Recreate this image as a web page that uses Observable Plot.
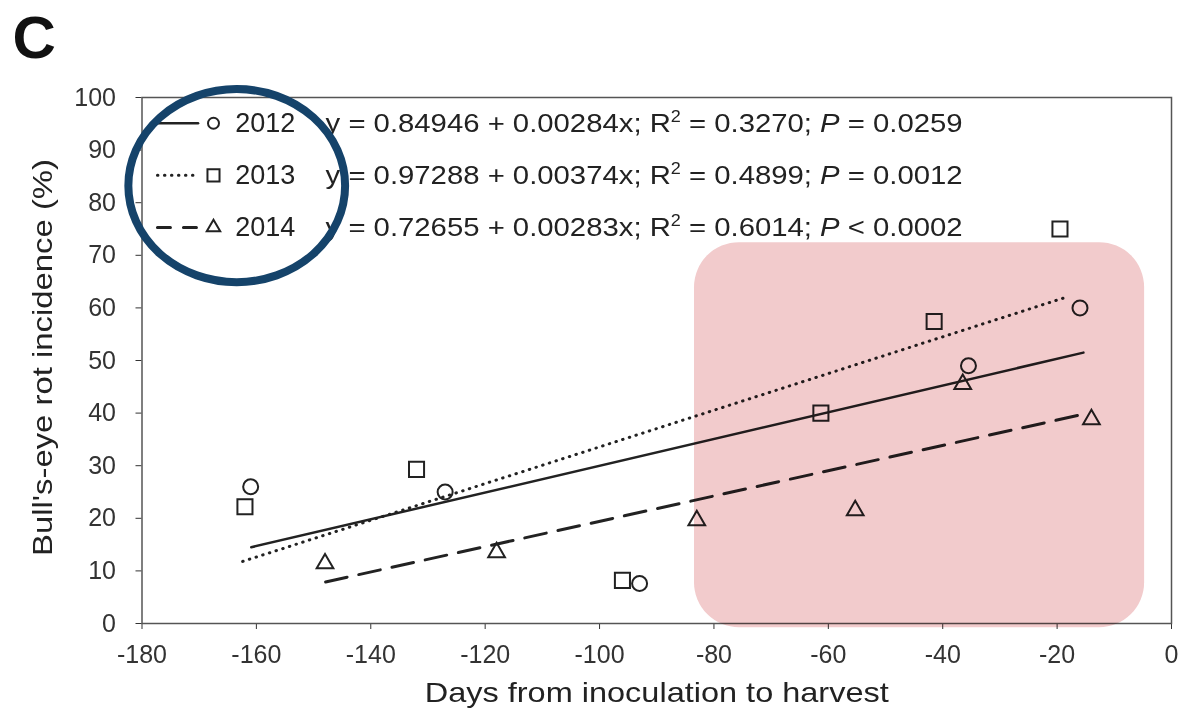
<!DOCTYPE html>
<html><head><meta charset="utf-8">
<script src="https://cdn.jsdelivr.net/npm/d3@7"></script>
<script src="https://cdn.jsdelivr.net/npm/@observablehq/plot@0.6"></script>
<style>body{margin:0;background:#fff;} #chart{width:1186px;height:722px;}</style>
</head><body><div id="chart"></div>
<script>
// ---- data ----
const years = ["2012", "2013", "2014"];
const days2012 = [-161, -127, -93, -35.5, -16];
const rot2012  = [26, 25, 7.6, 49, 60];
const days2013 = [-162, -132, -96, -61.3, -41.5, -19.5];
const rot2013  = [22.2, 29.3, 8.2, 40, 57.4, 75];
const days2014 = [-148, -118, -83, -55.3, -36.5, -14];
const rot2014  = [11.4, 13.5, 19.6, 21.5, 45.5, 38.8];
// regression line end points
const fitDays = [[-160.9, -15.4], [-162.4, -18.8], [-147.9, -14.5]];
const fitRot  = [[14.5, 51.5], [11.8, 61.9], [7.9, 40]];
// equation parts
const intercepts = ["0.84946", "0.97288", "0.72655"];
const slopes     = ["0.00284", "0.00374", "0.00283"];
const r2s        = ["0.3270", "0.4899", "0.6014"];
const pvals      = ["= 0.0259", "= 0.0012", "< 0.0002"];
const xTicks = [-180, -160, -140, -120, -100, -80, -60, -40, -20, 0];
const yTicks = [0, 10, 20, 30, 40, 50, 60, 70, 80, 90, 100];
// annotation regions (data units)
const highlightDays = [-83.4, -4.7];
const highlightRot  = [-0.8, 72.4];
const calloutDays = [-182.3, -144.4];
const calloutRot  = [64.8, 101.5];
const panelLabel = "C";
const xLabel = "Days from inoculation to harvest";
const yLabel = "Bull's-eye rot incidence (%)";

// ---- layout helpers ----
const L = {lineX1: -177.3, lineX2: -170.2, symX: -167.5, yearX: -163.7, eqX: -147.9, rowY: [95.1, 85.2, 75.3]};
const ink = "#222";
const pts = (d, r) => d.map((v, i) => ({day: v, rot: r[i]}));
const fits = years.map((_, i) => [0, 1].map(k => ({day: fitDays[i][k], rot: fitRot[i][k]})));
const lineStyles = [
  {strokeWidth: 2.5},
  {strokeWidth: 3, strokeDasharray: "0.5,6.5", strokeLinecap: "round"},
  {strokeWidth: 3, strokeDasharray: "22,12"}
];
const legendLineStyles = [
  {strokeWidth: 2.5},
  {strokeWidth: 3, strokeDasharray: "0.5,6.5", strokeLinecap: "round"},
  {strokeWidth: 3, strokeDasharray: "13,13"}
];
const symbols = ["circle", "square", "triangle"];
const symR = [7.5, 8.5, 6.2];
const legR = [5.5, 6.8, 5];
const series = [pts(days2012, rot2012), pts(days2013, rot2013), pts(days2014, rot2014)];
const eqText = years.map((_, i) => `y = ${intercepts[i]} + ${slopes[i]}x; R2 = ${r2s[i]}; P ${pvals[i]}`);

const marks = [Plot.frame({stroke: "#555", strokeWidth: 1.5})];
years.forEach((yr, i) => {
  marks.push(Plot.line(fits[i], {x: "day", y: "rot", stroke: ink, ...lineStyles[i]}));
  marks.push(Plot.dot(series[i], {x: "day", y: "rot", symbol: symbols[i], r: symR[i], stroke: ink, strokeWidth: 2}));
  marks.push(Plot.line([{day: L.lineX1, rot: L.rowY[i]}, {day: L.lineX2, rot: L.rowY[i]}], {x: "day", y: "rot", stroke: ink, ...legendLineStyles[i]}));
  marks.push(Plot.dot([{day: L.symX, rot: L.rowY[i]}], {x: "day", y: "rot", symbol: symbols[i], r: legR[i], stroke: ink, strokeWidth: 2}));
});
marks.push(Plot.text(years, {x: () => L.yearX, y: (d, i) => L.rowY[i], text: d => d, textAnchor: "start", fontSize: 27, fill: ink}));
marks.push(Plot.text(eqText, {x: () => L.eqX, y: (d, i) => L.rowY[i], text: d => d, textAnchor: "start", fontSize: 26, fill: ink}));
marks.push(Plot.rect([0], {x1: () => highlightDays[0], x2: () => highlightDays[1], y1: () => highlightRot[0], y2: () => highlightRot[1], fill: "#f2cbcc", rx: 45, ry: 45, mixBlendMode: "multiply"}));
marks.push(Plot.rect([0], {x1: () => calloutDays[0], x2: () => calloutDays[1], y1: () => calloutRot[0], y2: () => calloutRot[1], fill: "none", stroke: "#15436a", strokeWidth: 8, rx: 1000, ry: 1000}));
marks.push(Plot.text([xLabel], {frameAnchor: "bottom", dy: 78, text: d => d, fontSize: 28, fill: ink}));
marks.push(Plot.text([yLabel], {frameAnchor: "left", rotate: -90, dx: -99, dy: -3, textAnchor: "middle", text: d => d, fontSize: 28, fill: ink}));
marks.push(Plot.text([panelLabel], {frameAnchor: "top-left", dx: -129.5, dy: -82, lineAnchor: "top", textAnchor: "start", text: d => d, fontSize: 60, fontWeight: "bold", fill: "#111"}));

const svg = Plot.plot({
  width: 1186, height: 722,
  marginLeft: 141.5, marginRight: 15, marginTop: 97, marginBottom: 99,
  style: {fontFamily: "'Liberation Sans', Arial, sans-serif", fontSize: "25px", color: "#333", background: "#fff"},
  x: {domain: [-180, 0], ticks: xTicks, tickFormat: d => String(d), tickSize: 6, tickPadding: 16, label: null},
  y: {domain: [0, 100], ticks: yTicks, tickFormat: d => String(d), tickSize: 6, tickPadding: 20, label: null},
  marks
});

const s = d3.select(svg);
const byText = str => s.selectAll("text").filter(function() { return this.textContent === str; });
eqText.forEach((str, j) => {
  byText(str).each(function() {
    const t = d3.select(this);
    t.text(null);
    t.append("tspan").text(`y = ${intercepts[j]} + ${slopes[j]}x; R`);
    t.append("tspan").attr("font-size", 16).attr("dy", -10).text("2");
    t.append("tspan").attr("dy", 10).text(` = ${r2s[j]}; `);
    t.append("tspan").attr("font-style", "italic").text("P");
    t.append("tspan").text(` ${pvals[j]}`);
    t.attr("textLength", 637).attr("lengthAdjust", "spacingAndGlyphs");
  });
});
byText(xLabel).attr("textLength", 464).attr("lengthAdjust", "spacingAndGlyphs");
byText(yLabel).attr("textLength", 397).attr("lengthAdjust", "spacingAndGlyphs");
document.getElementById("chart").appendChild(svg);
</script></body></html>
